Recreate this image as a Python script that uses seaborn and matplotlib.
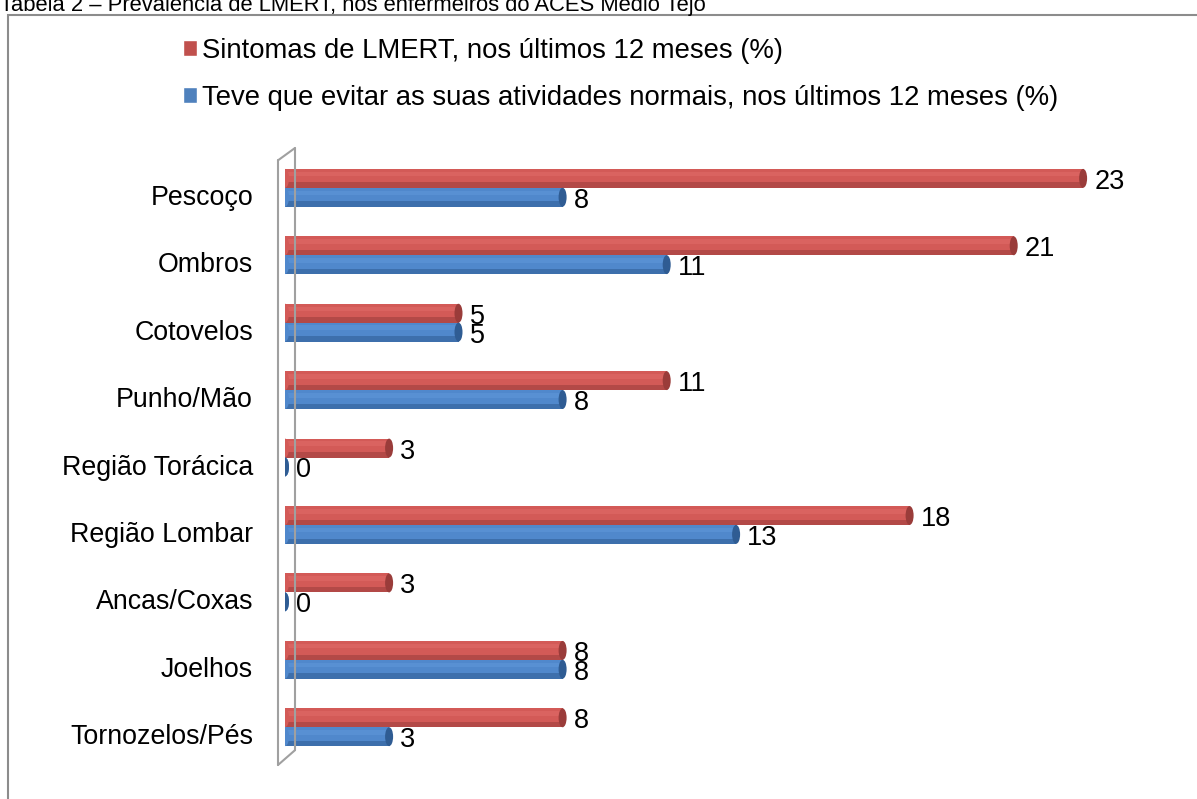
import matplotlib
matplotlib.use('Agg')
import matplotlib.pyplot as plt
import matplotlib.transforms as mtransforms
import seaborn as sns
import pandas as pd
from matplotlib.patches import Patch, Rectangle, Ellipse
from matplotlib.lines import Line2D

# data
regioes = ['Pescoço', 'Ombros', 'Cotovelos', 'Punho/Mão', 'Região Torácica',
           'Região Lombar', 'Ancas/Coxas', 'Joelhos', 'Tornozelos/Pés']
sintomas = [23, 21, 5, 11, 3, 18, 3, 8, 8]
evitar = [8, 11, 5, 8, 0, 13, 0, 8, 3]
serie_sint = 'Sintomas de LMERT, nos últimos 12 meses (%)'
serie_evit = 'Teve que evitar as suas atividades normais, nos últimos 12 meses (%)'

df = pd.DataFrame({
    'regiao': regioes * 2,
    'valor': sintomas + evitar,
    'serie': [serie_sint] * len(regioes) + [serie_evit] * len(regioes),
})

sns.set_theme(style='white')
plt.rcParams['font.family'] = ['Liberation Sans', 'DejaVu Sans']
plt.rcParams['text.color'] = 'black'

cor_sint = '#D35A57'
cor_evit = '#5088CC'
cor_escura = {0: '#9A3C3A', 1: '#2F5C93'}
cor_clara = {0: '#E06A67', 1: '#5E96D8'}

fig = plt.figure(figsize=(11.97, 7.99), dpi=100)
ax = fig.add_axes([285 / 1197, 1 - 765 / 799, 875 / 1197, 617 / 799])

sns.barplot(data=df, y='regiao', x='valor', hue='serie', orient='h',
            hue_order=[serie_sint, serie_evit],
            palette=[cor_sint, cor_evit], width=0.56, ax=ax,
            legend=False, saturation=1)

cap_w = 8 / 34.7  # cap width in data units (~8 px)
for i, cont in enumerate(ax.containers):
    for bar, v in zip(cont, cont.datavalues):
        bar.set_edgecolor('none')
        x0, y0 = bar.get_x(), bar.get_y()
        w, h = bar.get_width(), bar.get_height()
        z = bar.get_zorder()
        # shading strips for a cylinder look
        ax.add_patch(Rectangle((x0, y0 + 0.72 * h), w, 0.28 * h,
                               facecolor=cor_escura[i], alpha=0.55, lw=0, zorder=z))
        ax.add_patch(Rectangle((x0, y0 + 0.15 * h), w, 0.25 * h,
                               facecolor=cor_clara[i], alpha=0.6, lw=0, zorder=z))
        # end caps
        ax.add_patch(Ellipse((x0, y0 + h / 2), cap_w, h,
                             facecolor=cor_sint if i == 0 else cor_evit, lw=0, zorder=z))
        ax.add_patch(Ellipse((x0 + w, y0 + h / 2), cap_w, h, facecolor=cor_escura[i],
                             lw=0, zorder=z + 0.1))
        # value label
        ax.annotate(f'{v:g}', (x0 + w, y0 + h / 2), xytext=(8, -2.5),
                    textcoords='offset points', ha='left', va='center',
                    fontsize=19.5, color='black')

ax.set_xlim(0, 875 / 34.7)
ax.set_ylim(len(regioes) - 1 + 0.56, -0.59)
ax.set_xlabel('')
ax.set_ylabel('')
ax.set_xticks([])
ax.tick_params(axis='y', length=0, pad=23, labelsize=19.3, labelcolor='black')
shift = mtransforms.ScaledTranslation(0, -7 / 100, fig.dpi_scale_trans)
for lab in ax.get_yticklabels():
    lab.set_transform(lab.get_transform() + shift)
for s in ax.spines.values():
    s.set_visible(False)

# 3D-style wall at the left of the plot
wall = dict(color='#A0A0A0', lw=1.5, transform=ax.transAxes, clip_on=False)
ax.add_line(Line2D([-0.008, -0.008], [0.0, 0.98], **wall))
ax.add_line(Line2D([0.0114, 0.0114], [0.024, 1.0], **wall))
ax.add_line(Line2D([-0.008, 0.0114], [0.98, 1.0], **wall))
ax.add_line(Line2D([-0.008, 0.0114], [0.0, 0.024], **wall))

# legend at the top
handles = [Patch(facecolor='#C0504D', label=serie_sint),
           Patch(facecolor='#4F81BD', label=serie_evit)]
leg = fig.legend(handles=handles, loc='upper left', bbox_to_anchor=(172 / 1197, 1 - 27 / 799),
                 frameon=False, fontsize=19.8, handlelength=0.5, handleheight=0.5,
                 handletextpad=0.18, labelspacing=0.75, borderaxespad=0)
for t in leg.get_texts():
    t.set_color('black')

# outer frame and cut title
fig.patches.append(Rectangle((8 / 1197, -0.01), 1.2, 1 - 15 / 799 + 0.01,
                             transform=fig.transFigure, fill=False,
                             edgecolor='#8C8C8C', lw=1.5))
fig.text(0.0, 1 - 11 / 799, 'Tabela 2 – Prevalência de LMERT, nos enfermeiros do ACES Médio Tejo',
         fontsize=15.8, va='baseline', ha='left', color='black')

fig.savefig('out.png', dpi=100)
